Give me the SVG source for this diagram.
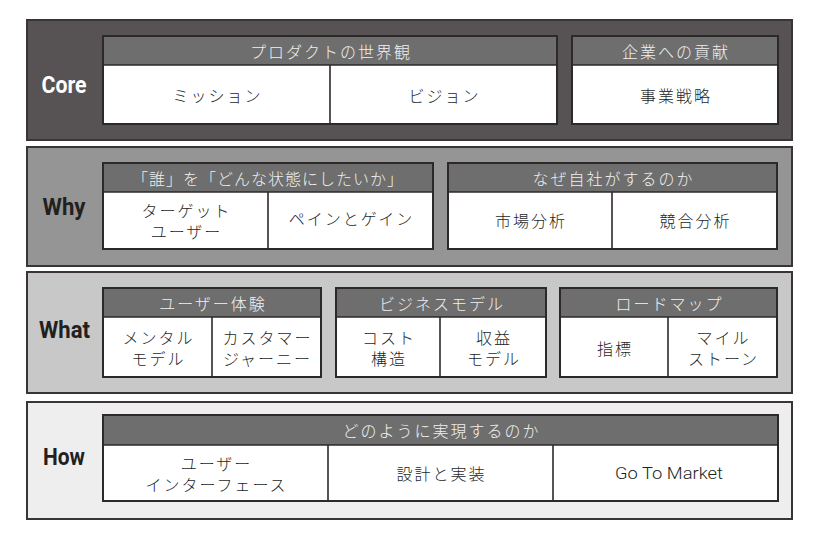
<svg xmlns="http://www.w3.org/2000/svg" width="832" height="556" viewBox="0 0 832 556">
<style>
.band{stroke:#3a3434;stroke-width:2}
.hdr{fill:#6e6e6e}
.body{fill:#ffffff}
.frame{fill:none;stroke:#2e2929;stroke-width:2}
.div{stroke:#2e2929;stroke-width:1.6}
.lbl{font-family:Roboto,"Liberation Sans",sans-serif;font-weight:700;font-size:23px;text-anchor:middle}
.ht{font-family:"Noto Sans CJK JP","Noto Sans",sans-serif;font-weight:300;font-size:16px;fill:#f0f0f0;text-anchor:middle;dominant-baseline:central;letter-spacing:2px}
.ct{font-family:"Noto Sans CJK JP","Noto Sans",sans-serif;font-weight:300;font-size:16px;fill:#231f1f;text-anchor:middle;dominant-baseline:central;letter-spacing:2px}
.lt{font-family:Roboto,"Liberation Sans",sans-serif;font-weight:300;font-size:17px;fill:#231f1f;text-anchor:middle;dominant-baseline:central}
</style>
<rect width="832" height="556" fill="#ffffff"/>
<g id="core">
<rect class="band" x="27" y="20" width="765" height="120" fill="#575354"/>
<text class="lbl" x="64" y="93" fill="#ffffff" textLength="45" lengthAdjust="spacingAndGlyphs">Core</text>
<g id="core-worldview">
<rect class="hdr" x="103" y="36" width="454" height="29"/>
<rect class="body" x="103" y="65" width="454" height="59"/>
<line class="div" x1="103" y1="65" x2="557" y2="65"/>
<line class="div" x1="330" y1="65" x2="330" y2="124"/>
<rect class="frame" x="103" y="36" width="454" height="88"/>
<text class="ht" x="331" y="50.5">プロダクトの世界観</text>
<text class="ct" x="217.5" y="95">ミッション</text>
<text class="ct" x="444.5" y="95">ビジョン</text>
</g>
<g id="core-contribution">
<rect class="hdr" x="572" y="36" width="206" height="29"/>
<rect class="body" x="572" y="65" width="206" height="59"/>
<line class="div" x1="572" y1="65" x2="778" y2="65"/>
<rect class="frame" x="572" y="36" width="206" height="88"/>
<text class="ht" x="676" y="50.5">企業への貢献</text>
<text class="ct" x="676" y="95">事業戦略</text>
</g>
</g>
<g id="why">
<rect class="band" x="27" y="147" width="765" height="119" fill="#959595"/>
<text class="lbl" x="64" y="215" fill="#231f1f" textLength="43" lengthAdjust="spacingAndGlyphs">Why</text>
<g id="why-who">
<rect class="hdr" x="103" y="163" width="330" height="29"/>
<rect class="body" x="103" y="192" width="330" height="57"/>
<line class="div" x1="103" y1="192" x2="433" y2="192"/>
<line class="div" x1="268" y1="192" x2="268" y2="249"/>
<rect class="frame" x="103" y="163" width="330" height="86"/>
<text class="ht" x="268" y="177.5" style="letter-spacing:1px">「誰」を「どんな状態にしたいか」</text>
<text class="ct"><tspan x="186.5" y="210">ターゲット</tspan><tspan x="186.5" y="230.5">ユーザー</tspan></text>
<text class="ct" x="351.5" y="218">ペインとゲイン</text>
</g>
<g id="why-self">
<rect class="hdr" x="448" y="163" width="329" height="29"/>
<rect class="body" x="448" y="192" width="329" height="57"/>
<line class="div" x1="448" y1="192" x2="777" y2="192"/>
<line class="div" x1="612" y1="192" x2="612" y2="249"/>
<rect class="frame" x="448" y="163" width="329" height="86"/>
<text class="ht" x="613.5" y="177.5">なぜ自社がするのか</text>
<text class="ct" x="531" y="220">市場分析</text>
<text class="ct" x="695.5" y="220">競合分析</text>
</g>
</g>
<g id="what">
<rect class="band" x="27" y="272" width="765" height="121" fill="#c8c8c8"/>
<text class="lbl" x="64.5" y="338" fill="#231f1f" textLength="51" lengthAdjust="spacingAndGlyphs">What</text>
<g id="what-ux">
<rect class="hdr" x="103" y="288" width="218" height="29"/>
<rect class="body" x="103" y="317" width="218" height="60"/>
<line class="div" x1="103" y1="317" x2="321" y2="317"/>
<line class="div" x1="212" y1="317" x2="212" y2="377"/>
<rect class="frame" x="103" y="288" width="218" height="89"/>
<text class="ht" x="213" y="302.5">ユーザー体験</text>
<text class="ct"><tspan x="158.5" y="337">メンタル</tspan><tspan x="158.5" y="358">モデル</tspan></text>
<text class="ct"><tspan x="267.5" y="337">カスタマー</tspan><tspan x="267.5" y="358">ジャーニー</tspan></text>
</g>
<g id="what-biz">
<rect class="hdr" x="336" y="288" width="210" height="29"/>
<rect class="body" x="336" y="317" width="210" height="60"/>
<line class="div" x1="336" y1="317" x2="546" y2="317"/>
<line class="div" x1="440" y1="317" x2="440" y2="377"/>
<rect class="frame" x="336" y="288" width="210" height="89"/>
<text class="ht" x="442" y="302.5">ビジネスモデル</text>
<text class="ct"><tspan x="389" y="337">コスト</tspan><tspan x="389" y="358">構造</tspan></text>
<text class="ct"><tspan x="494" y="337">収益</tspan><tspan x="494" y="358">モデル</tspan></text>
</g>
<g id="what-road">
<rect class="hdr" x="560" y="288" width="217" height="29"/>
<rect class="body" x="560" y="317" width="217" height="60"/>
<line class="div" x1="560" y1="317" x2="777" y2="317"/>
<line class="div" x1="668" y1="317" x2="668" y2="377"/>
<rect class="frame" x="560" y="288" width="217" height="89"/>
<text class="ht" x="669.5" y="302.5">ロードマップ</text>
<text class="ct" x="615" y="347.5">指標</text>
<text class="ct"><tspan x="723.5" y="337">マイル</tspan><tspan x="723.5" y="358">ストーン</tspan></text>
</g>
</g>
<g id="how">
<rect class="band" x="27" y="402" width="765" height="117" fill="#eeeeee"/>
<text class="lbl" x="64" y="465" fill="#231f1f" textLength="42" lengthAdjust="spacingAndGlyphs">How</text>
<g id="how-impl">
<rect class="hdr" x="103" y="415" width="675" height="30"/>
<rect class="body" x="103" y="445" width="675" height="56"/>
<line class="div" x1="103" y1="445" x2="778" y2="445"/>
<line class="div" x1="328" y1="445" x2="328" y2="501"/>
<line class="div" x1="553" y1="445" x2="553" y2="501"/>
<rect class="frame" x="103" y="415" width="675" height="86"/>
<text class="ht" x="441.5" y="430">どのように実現するのか</text>
<text class="ct"><tspan x="216.5" y="462.5">ユーザー</tspan><tspan x="216.5" y="484">インターフェース</tspan></text>
<text class="ct" x="441.5" y="473">設計と実装</text>
<text class="lt" x="669" y="473" textLength="108" lengthAdjust="spacingAndGlyphs">Go To Market</text>
</g>
</g>
</svg>
